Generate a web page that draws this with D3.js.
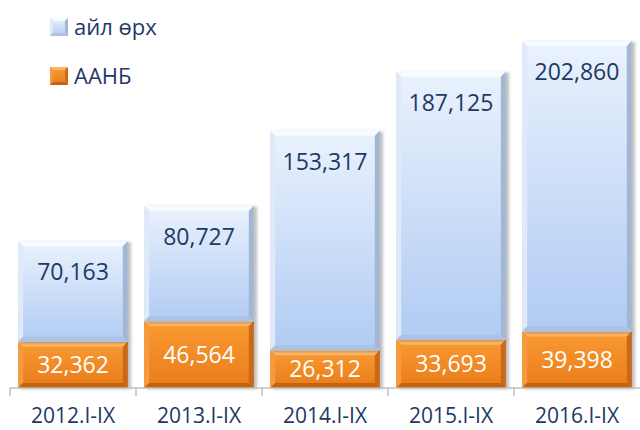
<!DOCTYPE html>
<html>
<head>
<meta charset="utf-8">
<script src="https://cdn.jsdelivr.net/npm/d3@7"></script>
<style>
  body { margin: 0; background: #fff; }
  svg text { font-family: "Open Sans", "Noto Sans", sans-serif; }
</style>
</head>
<body>
<svg width="640" height="430"></svg>
<script>
let years = ['2012.I-IX', '2013.I-IX', '2014.I-IX', '2015.I-IX', '2016.I-IX']
let aanb = [32362, 46564, 26312, 33693, 39398]
let ail = [70163, 80727, 153317, 187125, 202860]
let seriesNames = ['айл өрх', 'ААНБ']

let svg = d3.select('svg')
let defs = svg.append('defs')

// face gradients and shadow
let gBlue = defs.append('linearGradient').attr('id', 'gBlue').attr('x1', 0).attr('y1', 0).attr('x2', 0).attr('y2', 1)
gBlue.append('stop').attr('offset', '0%').attr('stop-color', '#eaf2fd')
gBlue.append('stop').attr('offset', '100%').attr('stop-color', '#b0cbf3')
let gOrange = defs.append('linearGradient').attr('id', 'gOrange').attr('x1', 0).attr('y1', 0).attr('x2', 0).attr('y2', 1)
gOrange.append('stop').attr('offset', '0%').attr('stop-color', '#f99a33')
gOrange.append('stop').attr('offset', '100%').attr('stop-color', '#e97c1a')

let shadow = defs.append('filter').attr('id', 'shadow')
    .attr('x', '-10%').attr('y', '-10%').attr('width', '130%').attr('height', '130%')
shadow.append('feDropShadow').attr('dx', 3).attr('dy', 1).attr('stdDeviation', 1.8)
    .attr('flood-color', '#000').attr('flood-opacity', 0.25)

let x = d3.scaleBand()
    .domain(years)
    .range([10, 640])
    .paddingInner(0.13)
    .paddingOuter(0.065)

let y = d3.scaleLinear()
    .domain([0, 250000])
    .range([388, 30])

let styles = {
    blue: {face: 'url(#gBlue)', top: '#f7faff', left: '#dfe9f8', right: '#a3b6d2', bottom: '#adc2e2'},
    orange: {face: 'url(#gOrange)', top: '#fbb567', left: '#f59a3c', right: '#c9691a', bottom: '#c4620f'}
}

let segs = []
years.forEach((yr, i) => {
    segs.push({year: yr, y0: 0, y1: aanb[i], value: aanb[i], kind: 'orange'})
    segs.push({year: yr, y0: aanb[i], y1: aanb[i] + ail[i], value: ail[i], kind: 'blue'})
})

let b = 5
let barG = svg.append('g')

let seg = barG.selectAll('.seg')
    .data(segs)
    .enter().append('g')
    .attr('class', 'seg')
    .attr('filter', 'url(#shadow)')

seg.each(function(d) {
    let g = d3.select(this)
    let x0 = x(d.year), x1 = x(d.year) + x.bandwidth()
    let t = y(d.y1), bt = y(d.y0)
    let s = styles[d.kind]
    g.append('rect').attr('x', x0).attr('y', t).attr('width', x1 - x0).attr('height', bt - t).attr('fill', s.face)
    let poly = pts => g.append('polygon').attr('points', pts.map(p => p.join(',')).join(' '))
    poly([[x0, t], [x1, t], [x1 - b, t + b], [x0 + b, t + b]]).attr('fill', s.top)
    poly([[x0, t], [x0 + b, t + b], [x0 + b, bt - b], [x0, bt]]).attr('fill', s.left)
    poly([[x1, t], [x1, bt], [x1 - b, bt - b], [x1 - b, t + b]]).attr('fill', s.right)
    poly([[x0, bt], [x0 + b, bt - b], [x1 - b, bt - b], [x1, bt]]).attr('fill', s.bottom)
})

// value labels
let fmt = d3.format(',')
barG.selectAll('.val')
    .data(segs)
    .enter().append('text')
    .attr('class', 'val')
    .attr('x', d => x(d.year) + x.bandwidth() / 2)
    .attr('y', d => d.kind == 'blue' ? y(d.y1) + 31 : (y(d.y0) + y(d.y1)) / 2)
    .attr('dy', '0.36em')
    .attr('text-anchor', 'middle')
    .attr('font-size', 23)
    .attr('fill', d => d.kind == 'blue' ? '#1f3864' : '#ffffff')
    .text(d => fmt(d.value))

// axis
let axisG = svg.append('g')
axisG.append('line')
    .attr('x1', 10).attr('x2', 640).attr('y1', 388).attr('y2', 388)
    .attr('stroke', '#bfbfbf').attr('stroke-width', 1.5)
axisG.selectAll('.tick')
    .data(years)
    .enter().append('line')
    .attr('x1', d => x(d) - x.step() * x.paddingInner() / 2)
    .attr('x2', d => x(d) - x.step() * x.paddingInner() / 2)
    .attr('y1', 388).attr('y2', 396)
    .attr('stroke', '#bfbfbf').attr('stroke-width', 1.5)
axisG.selectAll('.lbl')
    .data(years)
    .enter().append('text')
    .attr('x', d => x(d) + x.bandwidth() / 2)
    .attr('y', 415)
    .attr('dy', '0.36em')
    .attr('text-anchor', 'middle')
    .attr('font-size', 21)
    .attr('fill', '#1f3864')
    .text(d => d)

// legend
let legend = svg.append('g')
let lg = legend.selectAll('.leg')
    .data(seriesNames)
    .enter().append('g')
    .attr('transform', (d, i) => `translate(50, ${18 + i * 49})`)
lg.each(function(d, i) {
    let g = d3.select(this)
    let s = i == 0 ? styles.blue : styles.orange
    let w = 18, bb = 3
    g.append('rect').attr('width', w).attr('height', w).attr('fill', s.face)
    let poly = pts => g.append('polygon').attr('points', pts.map(p => p.join(',')).join(' '))
    poly([[0, 0], [w, 0], [w - bb, bb], [bb, bb]]).attr('fill', s.top)
    poly([[0, 0], [bb, bb], [bb, w - bb], [0, w]]).attr('fill', s.left)
    poly([[w, 0], [w, w], [w - bb, w - bb], [w - bb, bb]]).attr('fill', s.right)
    poly([[0, w], [bb, w - bb], [w - bb, w - bb], [w, w]]).attr('fill', s.bottom)
    g.append('text')
        .attr('x', 24).attr('y', 9).attr('dy', '0.36em')
        .attr('font-size', 22).attr('fill', '#1f3864')
        .text(d)
})
</script>
</body>
</html>
